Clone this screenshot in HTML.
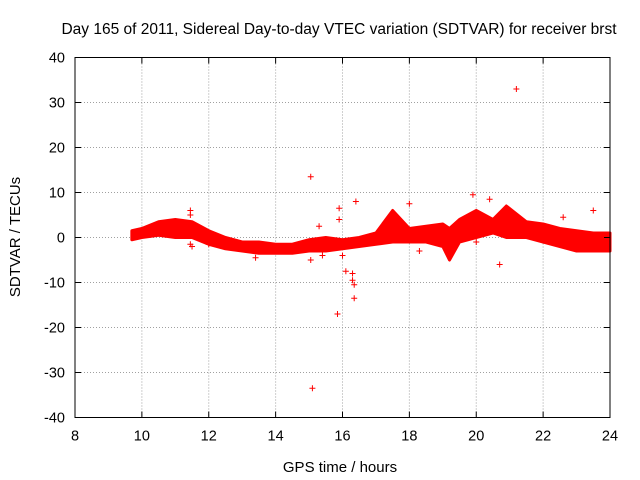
<!DOCTYPE html>
<html><head><meta charset="utf-8"><style>
body{margin:0;background:#fff}
svg{display:block;font-family:"Liberation Sans",sans-serif}
</style></head><body>
<svg id="chart" width="640" height="480" viewBox="0 0 640 480">
<text x="339" y="34" font-size="15.5" text-anchor="middle">Day 165 of 2011, Sidereal Day-to-day VTEC variation (SDTVAR) for receiver brst</text>
<text x="340" y="472" font-size="15" text-anchor="middle">GPS time / hours</text>
<text transform="translate(20,237) rotate(-90)" font-size="15" text-anchor="middle">SDTVAR / TECUs</text>
<g id="grid"></g><g id="series"></g><g id="axes"></g>
</svg>
<script>
const xTicks=[8,10,12,14,16,18,20,22,24];
const yTicks=[-40,-30,-20,-10,0,10,20,30,40];
const bandTimes=[9.7,10,10.5,11,11.5,12,12.5,13,13.5,14,14.5,15,15.5,16,16.5,17,17.5,18,18.5,19,19.2,19.5,20,20.5,20.9,21.5,22,22.5,23,23.5,24];
const bandUpper=[1.5,2,3.5,4,3.5,1.5,0,-1,-1,-1.5,-1.5,-0.5,0,-0.5,0,1,6,2,2.5,3,2,4,6,4,7,3.5,3,2,1.5,1,1];
const bandLower=[-0.5,0,0.5,0,0,-1.5,-2.5,-3,-3.5,-3.5,-3.5,-3,-3,-2.5,-2,-1.5,-1,-1,-1,-2,-5,-1,0,1,0,0,-1,-2,-3,-3,-3];
const outlierT=[11.45,11.45,11.45,11.5,12,13.4,15.05,15.05,15.1,15.3,15.4,15.85,15.9,15.9,16.0,16.1,16.3,16.3,16.35,16.35,16.4,18,18.3,19.9,20.0,20.4,20.7,21.2,23.5,22.6,17.3];
const outlierV=[6,5,-1.5,-2,-1.5,-4.5,13.5,-5,-33.5,2.5,-4,-17,6.5,4,-4,-7.5,-8,-9.5,-10.5,-13.5,8,7.5,-3,9.5,-1,8.5,-6,33,6,4.5,3];
const L=75,R=610,T=57.5,B=417.5;
const xs=t=>L+(t-8)/16*(R-L);
const ys=v=>B-(v+40)/80*(B-T);
const NS="http://www.w3.org/2000/svg";
function mk(tag,attrs,parent){const e=document.createElementNS(NS,tag);for(const k in attrs)e.setAttribute(k,attrs[k]);parent.appendChild(e);return e;}
const grid=document.getElementById('grid'),axes=document.getElementById('axes'),ser=document.getElementById('series');
xTicks.forEach(t=>{
 if(t>8&&t<24){const g=mk('line',{x1:xs(t),x2:xs(t),y1:T,y2:B,stroke:'#a0a0a0','stroke-dasharray':'1,2'},grid);
 
 }
 const lb=mk('text',{x:xs(t),y:B+23,'font-size':14.5,'text-anchor':'middle'},axes);lb.textContent=t;
 
 
 mk('line',{x1:xs(t),x2:xs(t),y1:B,y2:B-6,stroke:'#000'},axes);
 mk('line',{x1:xs(t),x2:xs(t),y1:T,y2:T+6,stroke:'#000'},axes);
});
yTicks.forEach(v=>{
 if(v>-40&&v<40){const g=mk('line',{x1:L,x2:R,y1:ys(v),y2:ys(v),stroke:'#a0a0a0','stroke-dasharray':'1,2'},grid);
 
 }
 const lb=mk('text',{x:L-10,y:ys(v)+5,'font-size':14.5,'text-anchor':'end'},axes);lb.textContent=v;
 
 
 mk('line',{x1:L,x2:L+6,y1:ys(v),y2:ys(v),stroke:'#000'},axes);
 mk('line',{x1:R,x2:R-6,y1:ys(v),y2:ys(v),stroke:'#000'},axes);
});
const frame=mk('rect',{x:L,y:T,width:R-L,height:B-T,fill:'none',stroke:'#000'},axes);


let d='';
bandTimes.forEach((t,i)=>{d+=(i?'L':'M')+xs(t)+','+ys(bandUpper[i]);});
for(let i=bandTimes.length-1;i>=0;i--)d+='L'+xs(bandTimes[i])+','+ys(bandLower[i]);
const band=mk('path',{d:d+'Z',fill:'#ff0000',stroke:'#ff0000','stroke-width':3,'stroke-linejoin':'round'},ser);


function plus(x,y){const p=mk('path',{d:`M${x-3},${y}h6M${x},${y-3}v6`,stroke:'#ff0000','stroke-width':1},ser);return p;}
outlierT.forEach((t,i)=>{const p=plus(xs(t),ys(outlierV[i]));
 
 });
</script>
</body></html>
